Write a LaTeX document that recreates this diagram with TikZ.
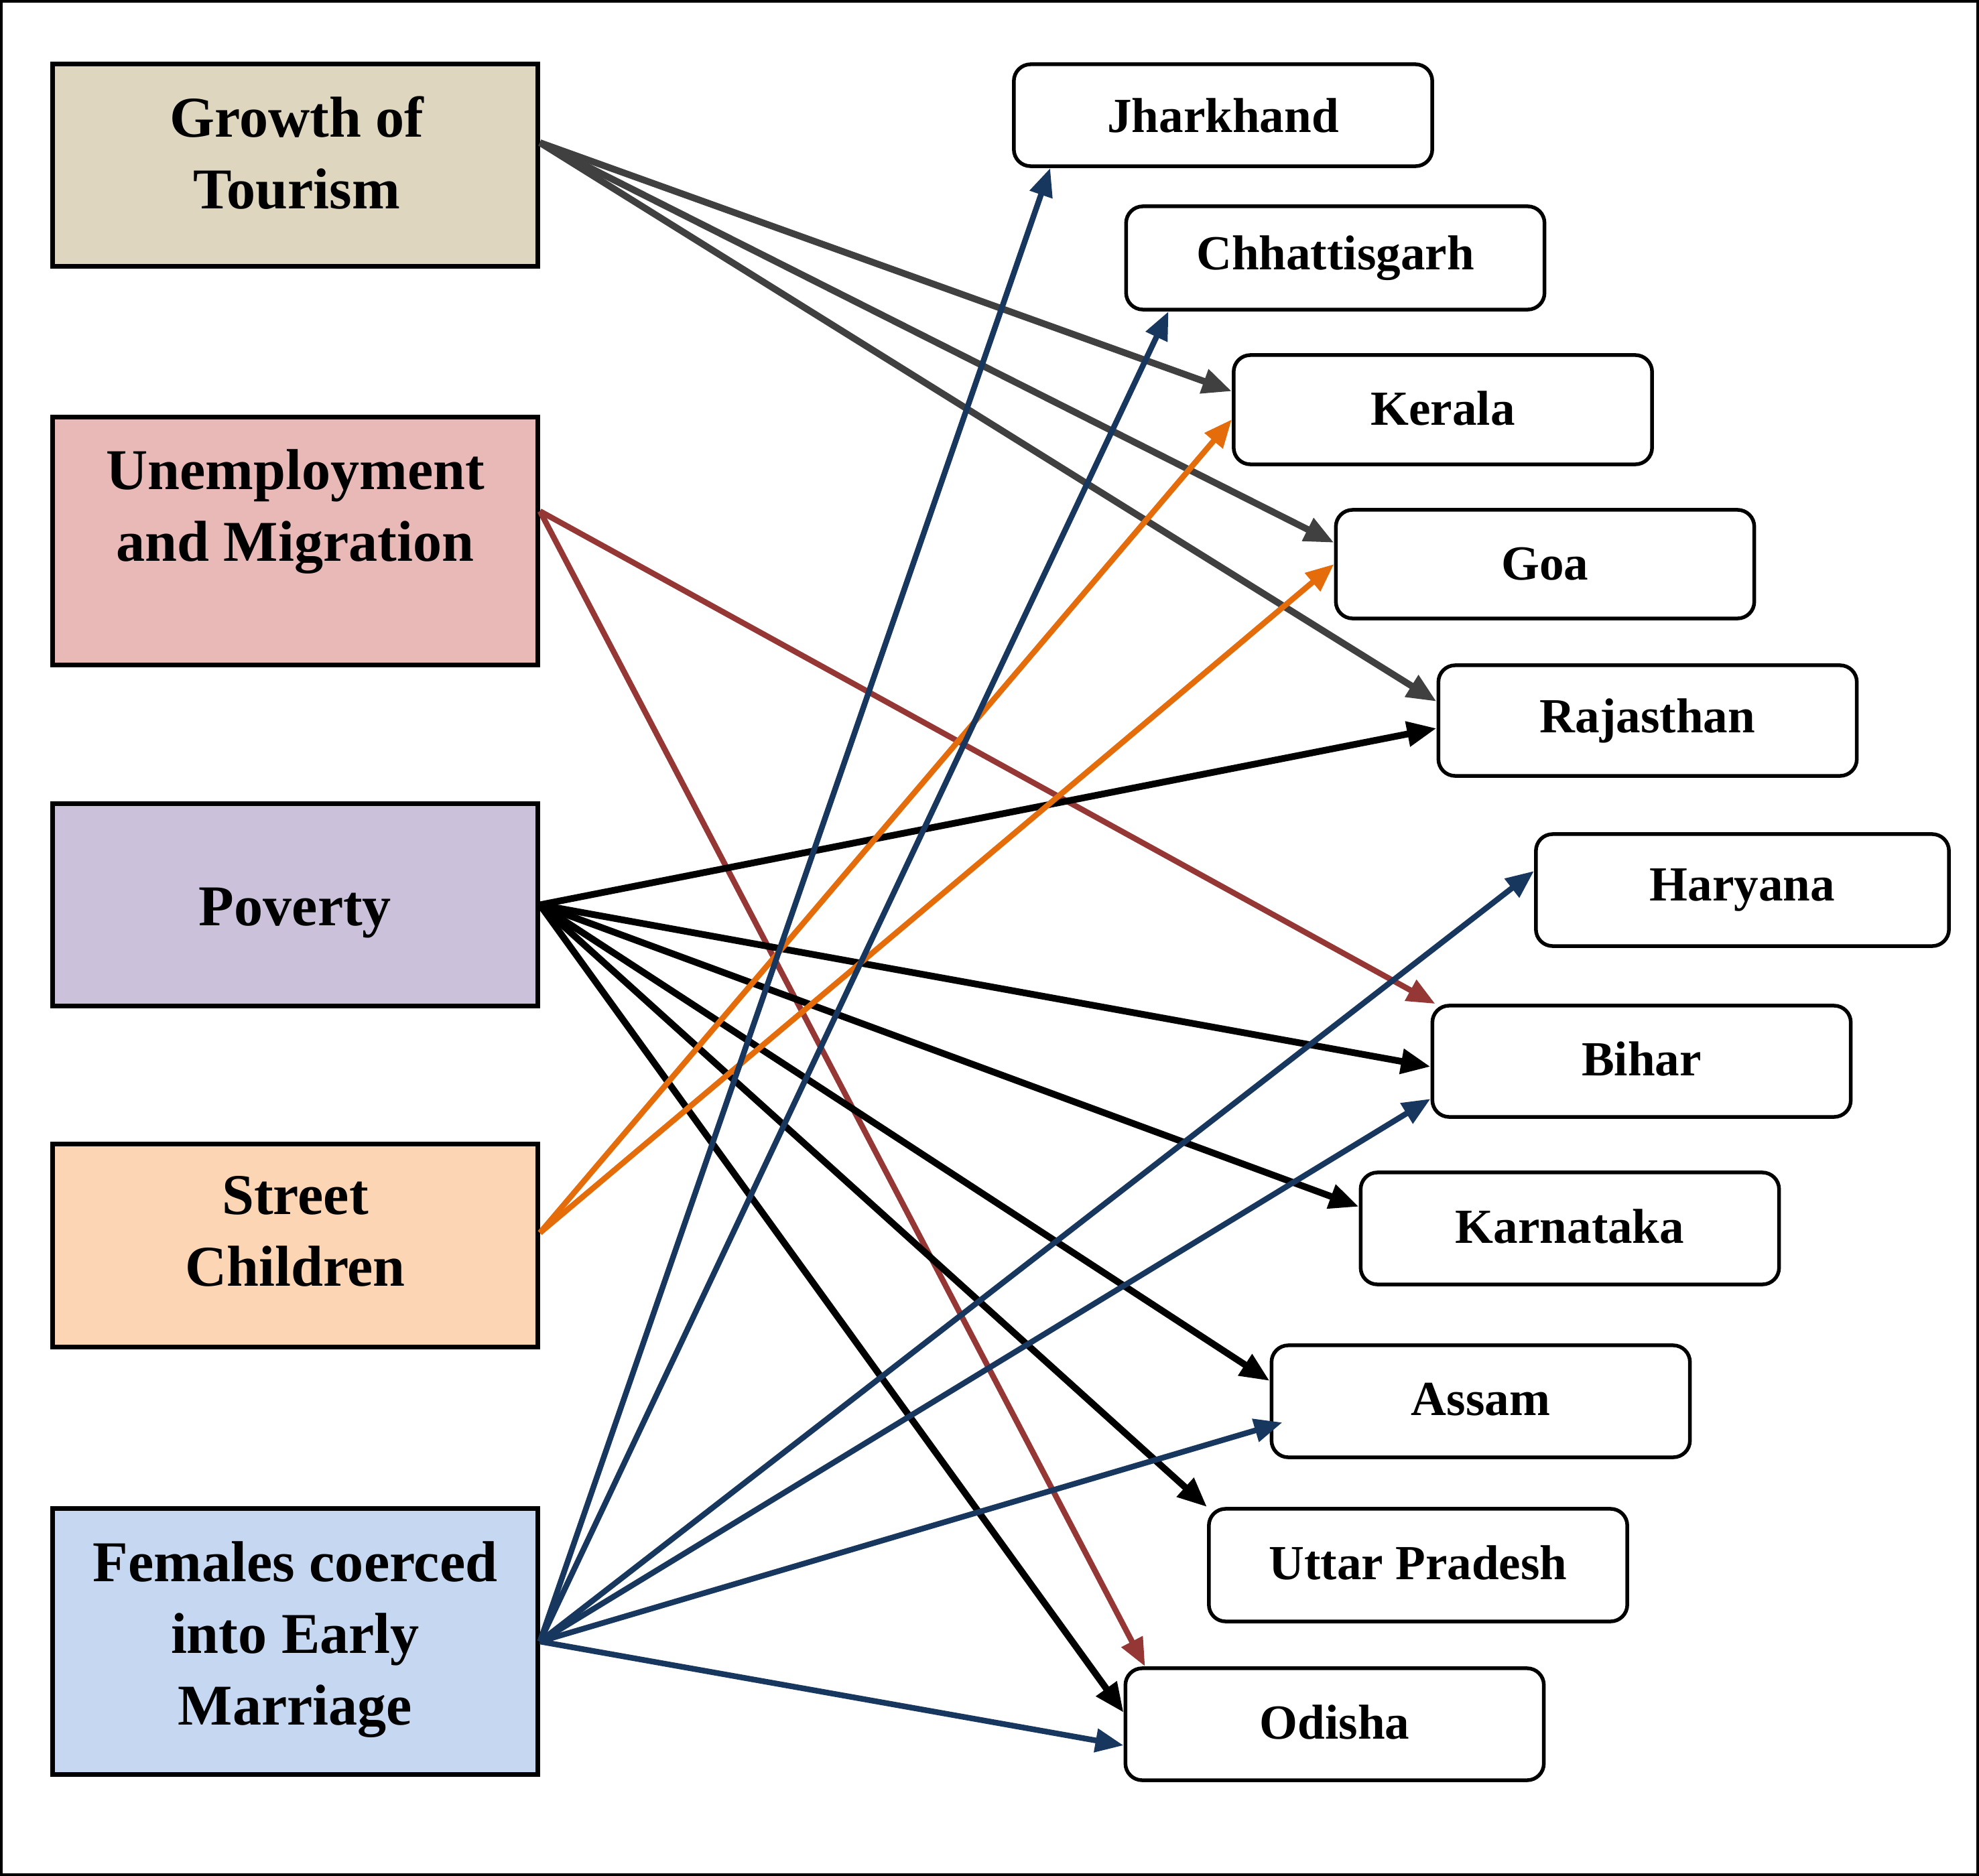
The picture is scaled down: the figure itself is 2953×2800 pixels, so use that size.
\documentclass[tikz,border=0pt]{standalone}
\usepackage{fontspec}
\setmainfont{Liberation Serif}
\usetikzlibrary{arrows.meta}
\definecolor{cgt}{HTML}{DFD6C0}
\definecolor{cum}{HTML}{E8B9B7}
\definecolor{cpv}{HTML}{CCC1DA}
\definecolor{csc}{HTML}{FCD5B4}
\definecolor{cfm}{HTML}{C6D8F1}
\definecolor{lgray}{HTML}{404040}
\definecolor{lbrown}{HTML}{953735}
\definecolor{lnavy}{HTML}{17375E}
\definecolor{lorange}{HTML}{E46C0A}
\begin{document}
\begin{tikzpicture}[x=0.01cm,y=-0.01cm,
  causebox/.style={draw=black, line width=0.07cm, minimum width=7.23cm, inner sep=0pt},
  causetext/.style={font=\fontsize{24.5}{30.4}\selectfont\bfseries, align=center, inner sep=0pt},
  statebox/.style={draw=black, line width=0.055cm, rounded corners=0.25cm, minimum width=6.24cm, inner sep=0pt, font=\fontsize{20.8}{25}\selectfont\bfseries},
  link/.style={line width=0.085cm, -{Triangle[length=0.42cm,width=0.34cm]}},
  boldlink/.style={line width=0.1cm, -{Triangle[length=0.44cm,width=0.36cm]}}
]
\useasboundingbox (0,0) rectangle (2953,2800);
\draw[line width=0.04cm] (2,2) rectangle (2951,2798);

% cause boxes
\node[causebox, fill=cgt, minimum height=3.01cm] (gt) at (440.5,246.5) {};
\node[causebox, fill=cum, minimum height=3.69cm] (um) at (440.5,807.5) {};
\node[causebox, fill=cpv, minimum height=3.01cm] (pv) at (440.5,1350.5) {};
\node[causebox, fill=csc, minimum height=3.02cm] (sc) at (440.5,1859) {};
\node[causebox, fill=cfm, minimum height=3.96cm] (fm) at (440.5,2450) {};

\node[causetext] (gtT) at (443,228) {Growth of\\Tourism};
\node[causetext] (umT) at (440.5,764) {Unemployment\\and Migration};
\node[causetext] (pvT) at (440.5,1363) {Poverty};
\node[causetext] (scT) at (440.5,1838) {Street\\Children};
\node[causetext] (fmT) at (440.5,2447) {Females coerced\\into Early\\Marriage};

% state boxes
\node[statebox, minimum height=1.52cm] (jh) at (1825,172) {Jharkhand};
\node[statebox, minimum height=1.54cm] (ch) at (1992.5,385) {\raisebox{-0.05cm}{Chhattisgarh}};
\node[statebox, minimum height=1.63cm] (ke) at (2153,611.5) {\raisebox{0.05cm}{Kerala}};
\node[statebox, minimum height=1.62cm] (go) at (2305.5,842) {Goa};
\node[statebox, minimum height=1.65cm] (ra) at (2458.5,1075.5) {Rajasthan};
\node[statebox, minimum height=1.67cm, minimum width=6.16cm] (ha) at (2600,1328.5) {Haryana};
\node[statebox, minimum height=1.66cm] (bi) at (2449.5,1584) {\raisebox{0.07cm}{Bihar}};
\node[statebox, minimum height=1.67cm] (ka) at (2342.5,1833.5) {\raisebox{0.07cm}{Karnataka}};
\node[statebox, minimum height=1.67cm] (as) at (2209.5,2091.5) {\raisebox{0.06cm}{Assam}};
\node[statebox, minimum height=1.68cm] (up) at (2116,2336) {\raisebox{0.07cm}{Uttar Pradesh}};
\node[statebox, minimum height=1.67cm] (od) at (1991.5,2573.5) {\raisebox{0.06cm}{Odisha}};

% Growth of Tourism
\draw[boldlink, lgray] ([yshift=0.335cm]gt.east) -- ([yshift=0.275cm]ke.west);
\draw[boldlink, lgray] ([yshift=0.335cm]gt.east) -- ([yshift=0.32cm]go.west);
\draw[boldlink, lgray] ([yshift=0.335cm]gt.east) -- ([yshift=0.285cm]ra.west);

% Unemployment and Migration
\draw[link, lbrown] ([yshift=0.445cm]um.east) -- ([xshift=0.07cm]bi.north west);
\draw[link, lbrown] ([yshift=0.445cm]um.east) -- ([xshift=0.32cm]od.north west);

% Poverty
\draw[boldlink, black] (pv.east) -- ([yshift=-0.115cm]ra.west);
\draw[boldlink, black] (pv.east) -- ([yshift=-0.08cm]bi.west);
\draw[boldlink, black] (pv.east) -- ([yshift=0.325cm]ka.west);
\draw[boldlink, black] (pv.east) -- ([yshift=0.305cm]as.west);
\draw[boldlink, black] (pv.east) -- (up.north west);
\draw[boldlink, black] (pv.east) -- ([yshift=0.175cm]od.west);

% Street Children
\draw[link, lorange] ([yshift=0.19cm]sc.east) -- ([yshift=-0.145cm]ke.west);
\draw[link, lorange] ([yshift=0.19cm]sc.east) -- (go.west);

% Females coerced into Early Marriage
\draw[link, lnavy] (fm.east) -- ([xshift=0.57cm]jh.south west);
\draw[link, lnavy] (fm.east) -- ([xshift=0.66cm]ch.south west);
\draw[link, lnavy] (fm.east) -- ([yshift=0.285cm]ha.west);
\draw[link, lnavy] (fm.east) -- ([yshift=-0.56cm]bi.west);
\draw[link, lnavy] (fm.east) -- ([xshift=0.19cm,yshift=-0.315cm]as.west);
\draw[link, lnavy] (fm.east) -- ([yshift=-0.315cm]od.west);
\end{tikzpicture}
\end{document}
